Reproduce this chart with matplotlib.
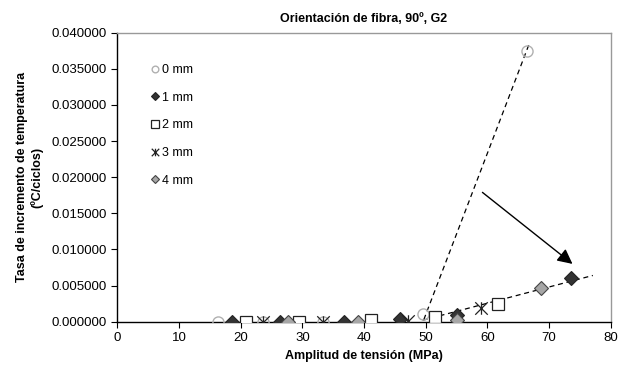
import matplotlib
matplotlib.use('Agg')
import matplotlib.pyplot as plt
import numpy as np
from matplotlib.path import Path
from matplotlib.ticker import FormatStrFormatter, MultipleLocator

plt.rcParams['font.family'] = ['Liberation Sans', 'DejaVu Sans']

# datos (x: MPa, y: ºC/ciclo)
x_0mm = [16.4, 23.6, 33.3, 49.5, 66.5]
y_0mm = [0.0, 0.0, 0.0, 0.0010, 0.0375]
x_1mm = [18.6, 26.3, 36.7, 45.8, 55.0, 73.5]
y_1mm = [0.0, 0.0, 0.0, 0.0004, 0.0009, 0.0060]
x_2mm = [20.8, 29.5, 41.2, 51.5, 61.8]
y_2mm = [0.0, 0.0, 0.0003, 0.0006, 0.0024]
x_3mm = [23.6, 33.3, 47.1, 58.9]
y_3mm = [0.0, 0.0, 0.0001, 0.0019]
x_4mm = [27.7, 39.0, 55.0, 68.7]
y_4mm = [0.0, 0.0, 0.0003, 0.0047]

# líneas de tendencia
trend_steep_x = [49.7, 66.8]
trend_steep_y = [0.0003, 0.0385]
trend_low_x = [49.5, 77.1]
trend_low_y = [0.0002, 0.0064]

# flecha
arrow_from = (59.2, 0.0179)
arrow_to = (73.8, 0.0080)

# marcador tipo asterisco de Excel (x + linea vertical)
star = Path([(0, -1), (0, 1), (-1, -1), (1, 1), (-1, 1), (1, -1)],
            [Path.MOVETO, Path.LINETO, Path.MOVETO, Path.LINETO, Path.MOVETO, Path.LINETO])

fig = plt.figure(figsize=(6.26, 3.76), dpi=100)
ax = fig.add_axes([0.1874, 0.1444, 0.7882, 0.7686])

ax.plot(trend_steep_x, trend_steep_y, ls=(0, (4, 3)), color='black', lw=0.9, zorder=2)
ax.plot(trend_low_x, trend_low_y, ls=(0, (4, 3)), color='black', lw=0.9, zorder=2)

ax.plot(x_0mm, y_0mm, 'o', ms=8, mfc='none', mec='#b0b0b0', mew=1.0, label='0 mm', zorder=3)
ax.plot(x_1mm, y_1mm, 'D', ms=7, mfc='#333333', mec='#222222', mew=0.8, label='1 mm', zorder=3)
ax.plot(x_2mm, y_2mm, 's', ms=9, mfc='white', mec='#222222', mew=0.9, label='2 mm', zorder=3)
ax.plot(x_3mm, y_3mm, ls='none', marker=star, ms=9, mec='#222222', mew=0.9, label='3 mm', zorder=3)
ax.plot(x_4mm, y_4mm, 'D', ms=7, mfc='#a6a6a6', mec='#444444', mew=0.8, label='4 mm', zorder=3)

ax.annotate('', xy=arrow_to, xytext=arrow_from,
            arrowprops=dict(arrowstyle='-|>,head_length=0.9,head_width=0.45', color='black', lw=1.0,
                            shrinkA=0, shrinkB=0))

ax.set_xlim(0, 80)
ax.set_ylim(0, 0.04)
ax.xaxis.set_major_locator(MultipleLocator(10))
ax.yaxis.set_major_locator(MultipleLocator(0.005))
ax.yaxis.set_major_formatter(FormatStrFormatter('%.6f'))
ax.tick_params(direction='out', length=4, width=0.8, labelsize=9.5, colors='black')

for side in ['top', 'right']:
    ax.spines[side].set_color('#999999')
    ax.spines[side].set_linewidth(1.0)
for side in ['left', 'bottom']:
    ax.spines[side].set_color('black')
    ax.spines[side].set_linewidth(1.0)

ax.set_title('Orientación de fibra, 90º, G2', fontsize=9, fontweight='bold', pad=8)
ax.set_xlabel('Amplitud de tensión (MPa)', fontsize=9, fontweight='bold', labelpad=4)
ax.set_ylabel('Tasa de incremento de temperatura\n(ºC/ciclos)', fontsize=9, fontweight='bold', labelpad=6)

ax.legend(loc='upper left', bbox_to_anchor=(0.045, 0.93), frameon=False, fontsize=9,
          markerscale=0.6, handlelength=0.6, handletextpad=0.3, labelspacing=1.25)

fig.savefig('out.png', dpi=100)
